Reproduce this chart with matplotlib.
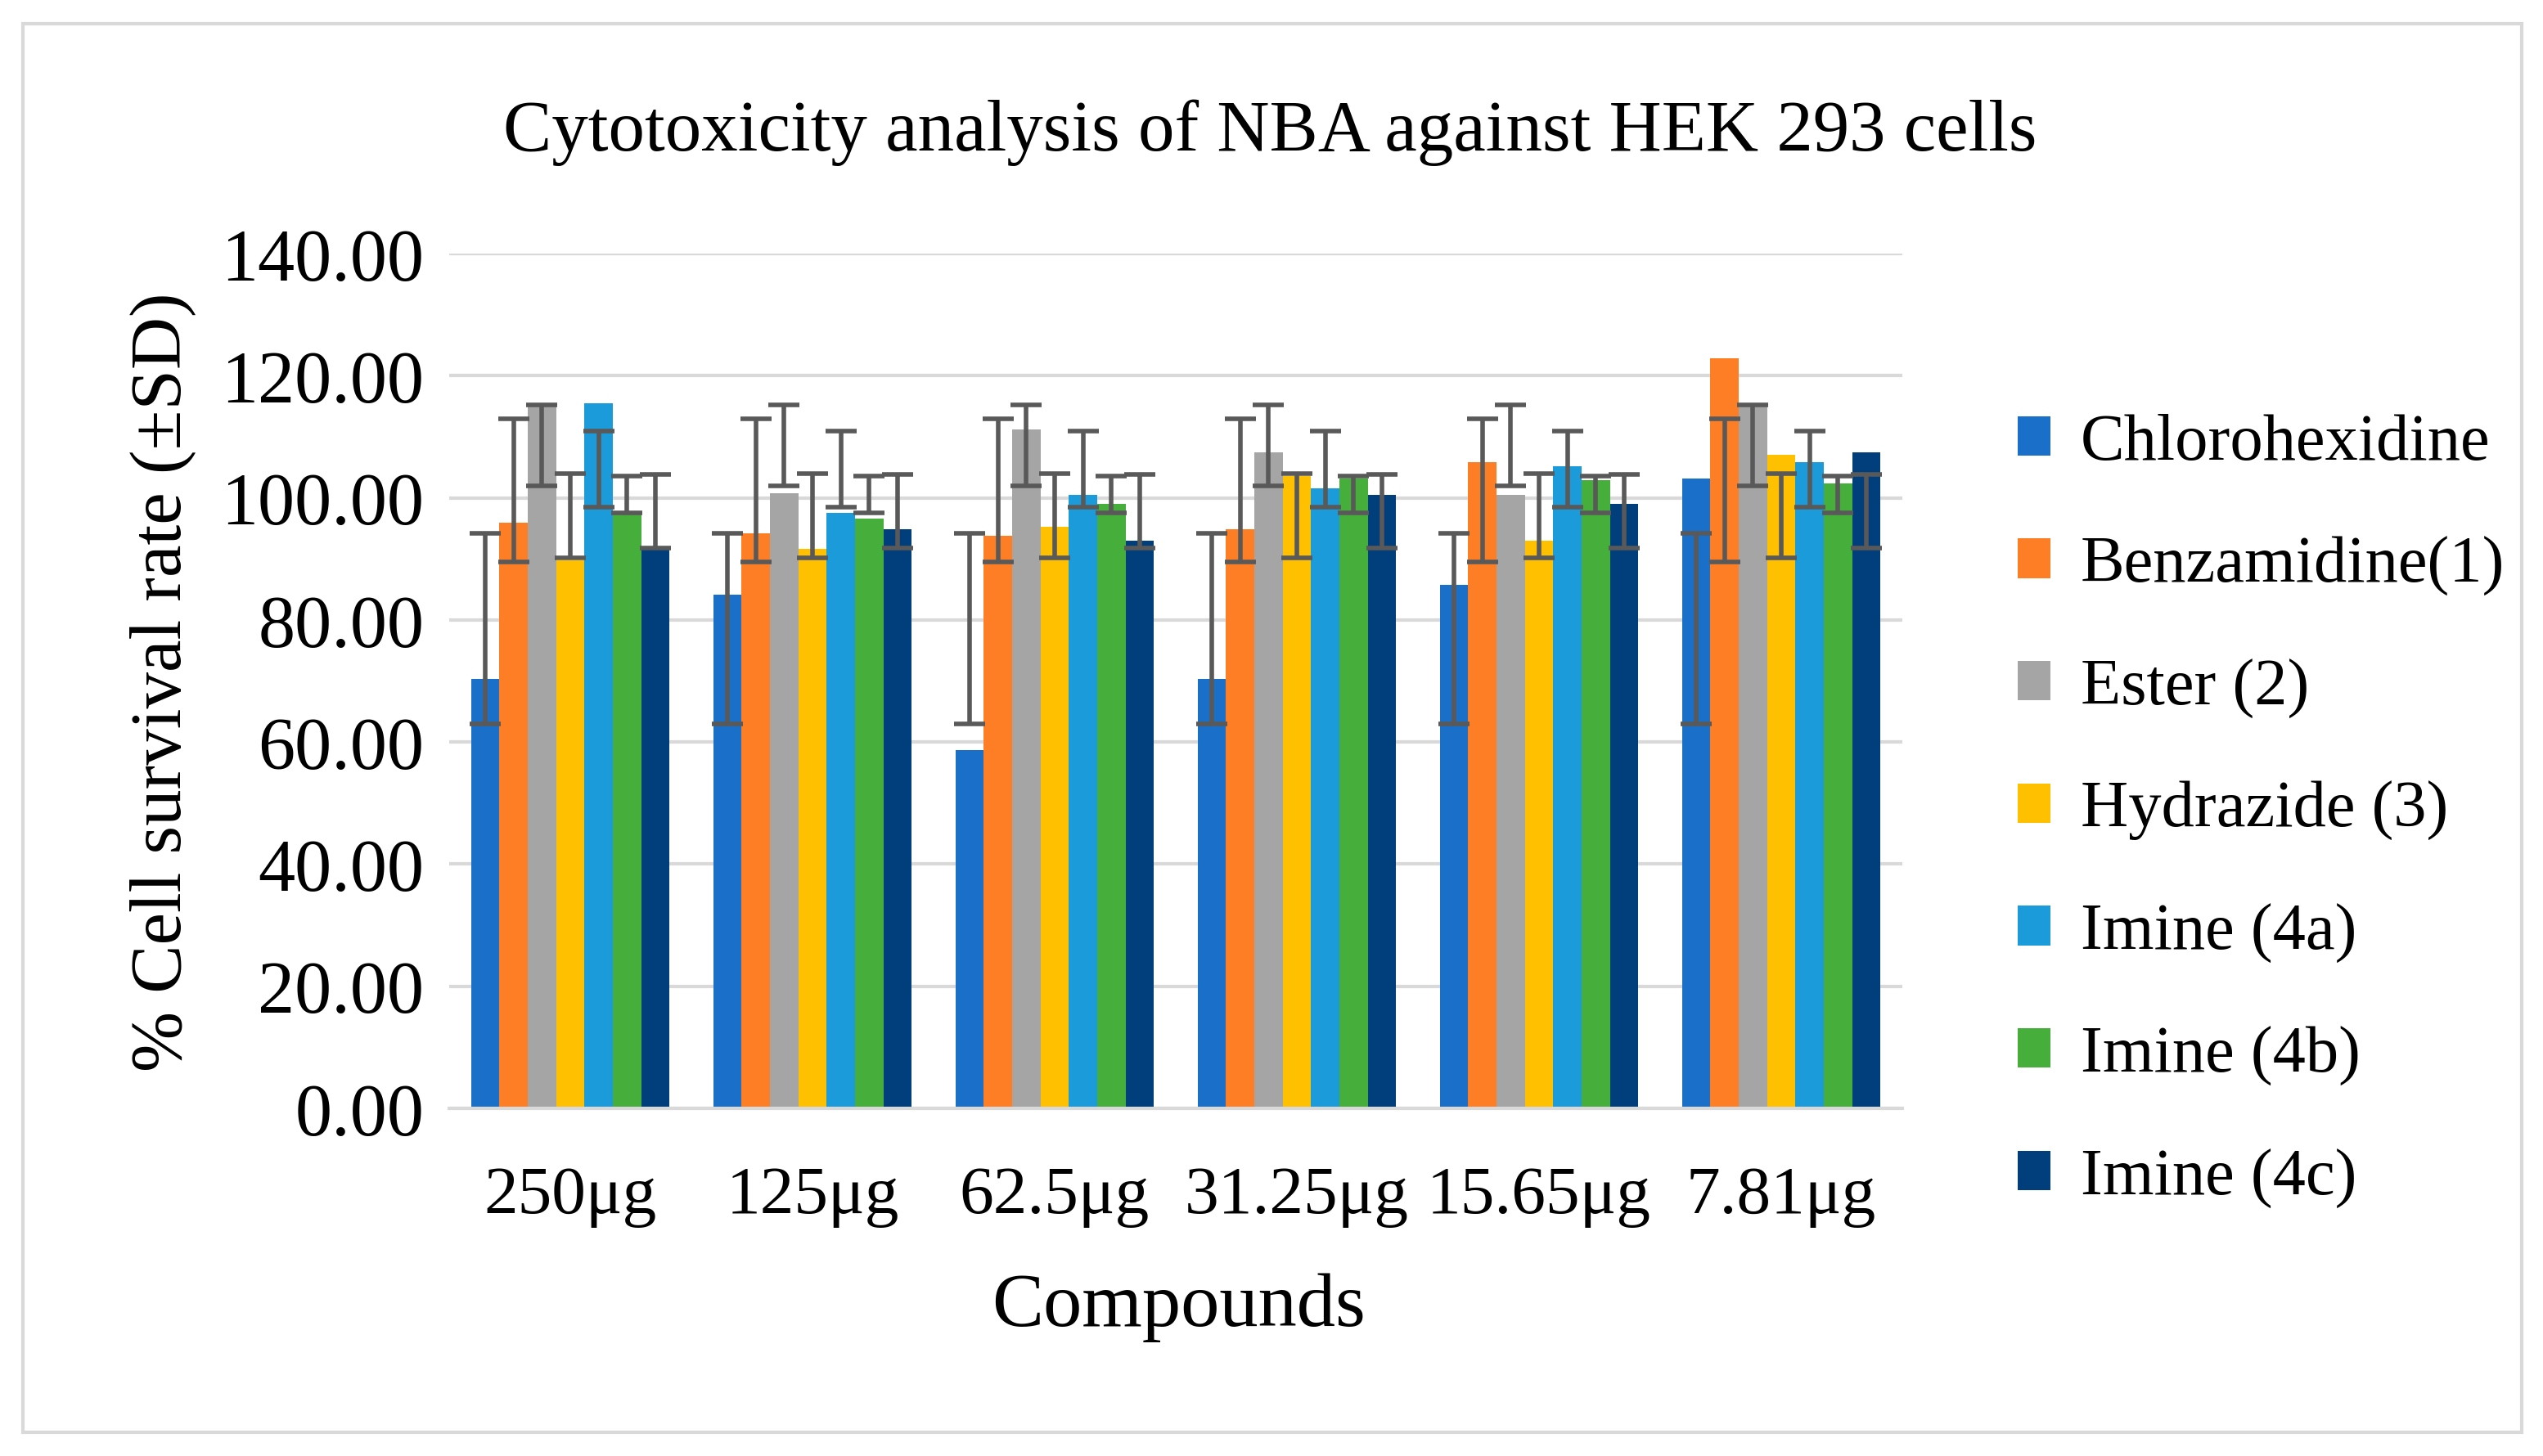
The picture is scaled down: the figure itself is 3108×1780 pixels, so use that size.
import matplotlib
matplotlib.use("Agg")
import matplotlib.pyplot as plt
from matplotlib.patches import Rectangle, Patch
import numpy as np

plt.rcParams['font.family'] = ['Liberation Serif', 'DejaVu Serif']

categories = ["250μg", "125μg", "62.5μg", "31.25μg", "15.65μg", "7.81μg"]
series = ["Chlorohexidine", "Benzamidine(1)", "Ester (2)", "Hydrazide (3)",
          "Imine (4a)", "Imine (4b)", "Imine (4c)"]
chlorohexidine = [70.3, 84.2, 58.7, 70.3, 85.7, 103.2]
benzamidine = [95.9, 94.2, 93.8, 94.8, 105.9, 122.9]
ester = [115.2, 100.7, 111.2, 107.5, 100.5, 115.3]
hydrazide = [89.7, 91.6, 95.2, 103.5, 93.0, 107.1]
imine_4a = [115.5, 97.5, 100.5, 101.6, 105.2, 105.9]
imine_4b = [97.3, 96.6, 99.0, 103.1, 102.9, 102.4]
imine_4c = [91.8, 94.8, 93.0, 100.5, 99.0, 107.5]
values = [chlorohexidine, benzamidine, ester, hydrazide, imine_4a, imine_4b, imine_4c]
# error bar extents (lower, upper) for each series, same for every concentration
err_lower = [63.0, 89.5, 101.9, 90.2, 98.5, 97.5, 91.8]
err_upper = [94.2, 112.9, 115.2, 104.0, 110.9, 103.5, 103.8]
yticks = [0, 20, 40, 60, 80, 100, 120, 140]

colors = ["#1a70c8", "#fd7e24", "#a5a5a5", "#ffc000", "#1b9bd9", "#46ae3a", "#003f7c"]

W, H = 3108, 1781
fig = plt.figure(figsize=(W / 100, H / 100), dpi=100)
fig.patches.append(Rectangle((28 / W, 1 - 1752 / H), (3082 - 28) / W, (1752 - 30) / H,
                             transform=fig.transFigure, fill=False,
                             edgecolor="#d9d9d9", lw=3))

ax = fig.add_axes([549 / W, 1 - 1356 / H, (2325 - 549) / W, (1356 - 311) / H])

n = len(series)
group_w = 0.82
bw = group_w / n
x = np.arange(len(categories))
for i, (name, vals) in enumerate(zip(series, values)):
    xs = x - group_w / 2 + bw * (i + 0.5)
    ax.bar(xs, vals, width=bw, color=colors[i], label=name, zorder=2)
for i in range(n):
    xs = x - group_w / 2 + bw * (i + 0.5)
    lo = np.full(len(categories), err_lower[i])
    hi = np.full(len(categories), err_upper[i])
    ax.errorbar(xs, (lo + hi) / 2, yerr=(hi - lo) / 2, fmt='none',
                ecolor="#595959", elinewidth=4, capsize=14, capthick=4, zorder=3)

ax.set_xlim(-0.5, len(categories) - 0.5)
ax.set_ylim(0, 140)
ax.set_yticks(yticks)
ax.set_yticklabels([f"{v:.2f}" for v in yticks])
ax.set_xticks(x)
ax.set_xticklabels(categories)
ax.tick_params(axis='both', length=0, colors='#000000')
ax.tick_params(axis='y', pad=22, labelsize=65)
ax.tick_params(axis='x', pad=50, labelsize=60)
ax.grid(axis='y', color="#d9d9d9", lw=3, zorder=0)
ax.set_axisbelow(True)
for s in ["top", "right", "left"]:
    ax.spines[s].set_visible(False)
ax.spines["bottom"].set_color("#d9d9d9")
ax.spines["bottom"].set_linewidth(3)

ax.set_ylabel("% Cell survival rate (±SD)", fontsize=64)
ax.yaxis.set_label_coords(-0.1976, 0.5)
ax.yaxis.label.set_va('center')
ax.set_xlabel("Compounds", fontsize=68)
ax.xaxis.set_label_coords(0.502, -0.232)
ax.xaxis.label.set_va('center')

fig.text(1552 / W, 1 - 184 / H, "Cytotoxicity analysis of NBA against HEK 293 cells",
         fontsize=64, ha='center', va='baseline')

handles = [Patch(facecolor=c, edgecolor='none') for c in colors]
fig.legend(handles, series, loc='center left', bbox_to_anchor=(2466 / W, 1 - 992 / H),
           frameon=False, fontsize=58, handlelength=0.5, handleheight=0.55,
           handletextpad=0.45, labelspacing=0.95, borderpad=0, borderaxespad=0)

fig.savefig("out.png", dpi=100)
